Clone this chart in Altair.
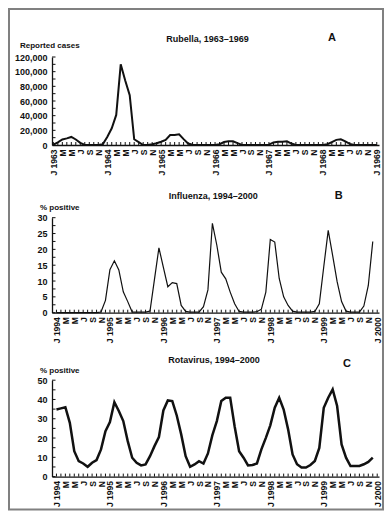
import json
import altair as alt
import pandas as pd

FONT = "Liberation Sans"
INK = "#111111"

# ---- data (monthly values) ----
# Rubella, reported cases, Jan 1963 .. Jan 1969
rubella_cases = [
    500, 3500, 7500, 9000, 11000, 7500, 3000, 0, 0, 0, 0, 1000,          # 1963
    11000, 22800, 41000, 110000, 88000, 68000, 7800, 4000, 0, 0, 1000, 2500,  # 1964
    4500, 7000, 13500, 13500, 14500, 8000, 2000, 300, 0, 0, 0, 0,         # 1965
    0, 1000, 4000, 5000, 5000, 2500, 0, 0, 0, 0, 0, 0,                    # 1966
    500, 3500, 4500, 4500, 5000, 2000, 0, 0, 0, 0, 0, 0,                  # 1967
    0, 1000, 4000, 7000, 7700, 5000, 1500, 0, 0, 0, 0, 0,                 # 1968
    0,                                                                    # Jan 1969
]
# Influenza, % positive, Jan 1994 .. Dec 1999
influenza_pct = [
    0, 0, 0, 0, 0, 0, 0, 0, 0, 0, 0.2, 3.9,
    13.6, 16.4, 13.5, 6.6, 3.5, 0.2, 0.2, 0.2, 0.2, 0.5, 10.5, 20.5,
    14.3, 8.2, 9.5, 9.2, 2.3, 0.4, 0.2, 0.2, 0.2, 1.9, 7.2, 28.2,
    21.3, 12.8, 10.7, 6.5, 2.8, 0.4, 0.2, 0.2, 0.2, 0.3, 1.1, 6.5,
    23.1, 22.3, 10.8, 5.0, 2.3, 0.5, 0.2, 0.2, 0.2, 0.2, 0.4, 2.8,
    14.5, 26.0, 18.0, 9.8, 3.5, 0.5, 0.2, 0.2, 0.2, 2.1, 8.6, 22.5,
]
# Rotavirus, % positive, Jan 1994 .. Dec 1999
rotavirus_pct = [
    34.8, 35.4, 36.0, 27.9, 13.2, 8.0, 6.8, 5.1, 7.2, 8.6, 14.1, 23.6,
    28.3, 38.6, 34.0, 28.8, 18.4, 9.8, 7.2, 5.8, 6.3, 10.6, 15.8, 20.5,
    34.3, 39.5, 39.2, 31.7, 21.9, 10.6, 5.1, 6.3, 8.0, 6.8, 12.0, 21.5,
    28.8, 39.2, 40.9, 40.9, 26.0, 13.2, 9.8, 5.8, 6.0, 6.8, 14.1, 20.1,
    26.6, 35.7, 40.9, 34.8, 24.5, 11.5, 6.4, 4.7, 4.7, 6.0, 8.1, 14.9,
    35.7, 40.9, 45.2, 36.6, 16.7, 9.8, 5.5, 5.5, 5.5, 6.4, 7.6, 9.8,
]

month_letters = ["J", "", "M", "", "M", "", "J", "", "S", "", "N", ""]
month_ticks = list(range(0, 73))
month_labels = list(range(0, 73, 2))

rubella_ylabels = [0, 20000, 40000, 60000, 80000, 100000, 120000]
rubella_yminor = list(range(0, 120001, 10000))
influenza_ylabels = [0, 5, 10, 15, 20, 25, 30]
influenza_yminor = [0, 2.5, 5, 7.5, 10, 12.5, 15, 17.5, 20, 22.5, 25, 27.5, 30]
rotavirus_ylabels = [0, 10, 20, 30, 40, 50]
rotavirus_yminor = [0, 5, 10, 15, 20, 25, 30, 35, 40, 45, 50]

W = 327


def text_layer(text, x, y, size, align="center"):
    return alt.Chart(pd.DataFrame({"t": [text]})).mark_text(
        font=FONT, fontSize=size, fontWeight="bold", color=INK,
        align=align, baseline="alphabetic"
    ).encode(x=alt.value(x), y=alt.value(y), text="t:N")


def panel(values, start_year, xdomain, ydomain, ylabels, yminor, yfmt,
          height, ytop, stroke_width, title, title_xy, letter, letter_xy,
          ytitle, ytitle_xy, extra=None):
    df = pd.DataFrame({"m": list(range(len(values))), "v": values})
    letters_js = json.dumps(month_letters).replace('"', "'")
    label_expr = (
        f"datum.value % 12 == 0 ? 'J ' + ({start_year} + floor(datum.value / 12))"
        f" : {letters_js}[datum.value % 12]"
    )
    xscale = alt.Scale(domain=xdomain, nice=False, zero=False)
    yscale = alt.Scale(domain=ydomain, nice=False, zero=False, range=[height, ytop])
    xaxis = alt.Axis(
        values=month_labels, labelExpr=label_expr, labelAngle=270,
        labelFont=FONT, labelFontSize=8.5, labelFontWeight="bold", labelColor=INK,
        labelPadding=4, ticks=False, tickSize=0, domainColor=INK, domainWidth=1.3,
        grid=False, title=None, labelOverlap=False, labelFlush=False, labelBound=False,
    )
    yaxis = alt.Axis(
        values=ylabels, format=yfmt,
        labelFont=FONT, labelFontSize=9, labelFontWeight="bold", labelColor=INK,
        labelPadding=5, ticks=False, tickSize=0, domainColor=INK, domainWidth=1.3,
        grid=False, title=None, labelOverlap=False, labelFlush=False, labelBound=False,
    )
    xenc = alt.X("m:Q", scale=xscale, axis=xaxis)
    yenc = alt.Y("v:Q", scale=yscale, axis=yaxis)

    line = alt.Chart(df).mark_line(
        color=INK, strokeWidth=stroke_width, strokeJoin="miter"
    ).encode(x=xenc, y=yenc)
    xt = alt.Chart(pd.DataFrame({"m": month_ticks})).mark_rule(
        color=INK, strokeWidth=1
    ).encode(x=xenc, y=alt.value(height), y2=alt.value(height - 3))
    yt = alt.Chart(pd.DataFrame({"v": yminor})).mark_rule(
        color=INK, strokeWidth=1
    ).encode(y=yenc, x=alt.value(0), x2=alt.value(3.5))

    layers = [line, xt, yt,
              text_layer(title, title_xy[0], title_xy[1], 9),
              text_layer(letter, letter_xy[0], letter_xy[1], 11),
              text_layer(ytitle, ytitle_xy[0], ytitle_xy[1], 8, align="left")]
    if extra is not None:
        layers.append(extra)
    return alt.layer(*layers).properties(width=W, height=height)


frame = alt.Chart(pd.DataFrame({"f": [0]})).mark_rect(
    filled=False, color="#808080", strokeWidth=2
).encode(x=alt.value(-43), x2=alt.value(331), y=alt.value(-48), y2=alt.value(452.5))

panel_a = panel(rubella_cases, 1963, [-0.3, 72.5], [0, 120000], rubella_ylabels,
                rubella_yminor, ",d", 88, 0, 2.0,
                "Rubella, 1963\u20131969", (155.5, -15.5), "A", (280, -16),
                "Reported cases", (-32, -9), extra=frame)
panel_b = panel(influenza_pct, 1994, [-1, 72.4], [0, 30], influenza_ylabels,
                influenza_yminor, "d", 101.1, 6.1, 1.2,
                "Influenza, 1994\u20132000", (161.3, -12.3), "B", (286.7, -12.3),
                "% positive", (-12, -1.6))
panel_c = panel(rotavirus_pct, 1994, [-1, 72.4], [0, 50], rotavirus_ylabels,
                rotavirus_yminor, "d", 96.4, 0, 2.5,
                "Rotavirus, 1994\u20132000", (162, -17.6), "C", (295, -13.3),
                "% positive", (-12, -7))

chart = alt.vconcat(panel_a, panel_b, panel_c, spacing=66.6, bounds="flush").properties(
    padding=0, background="white"
).configure_view(stroke=None)

chart.save("out.html", embed_options={"renderer": "svg", "actions": False})
